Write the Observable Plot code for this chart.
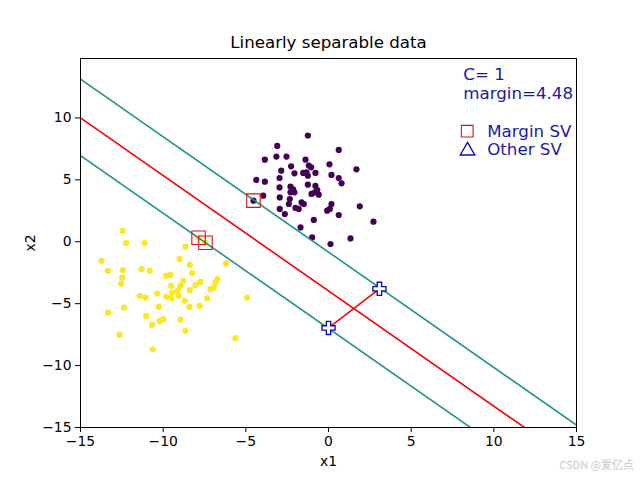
<!DOCTYPE html>
<html><head><meta charset="utf-8">
<script src="https://cdn.jsdelivr.net/npm/d3@7"></script>
<script src="https://cdn.jsdelivr.net/npm/@observablehq/plot@0.6"></script>
<style>body{margin:0;background:#fff}#c{position:relative;width:640px;height:480px}</style>
</head><body><div id="c"></div>
<script>
// class 0 (purple) points [x1, x2]
const class0 = [[-1.25,8.58],[-3.10,7.74],[0.62,7.42],[-3.15,6.88],[-2.54,6.88],[-3.85,6.63],[-1.39,6.63],[0.06,6.25],[-2.26,6.09],[-1.19,6.15],[-1.05,6.01],[1.69,5.85],[-2.86,5.74],[-2.06,5.53],[-1.53,5.56],[-1.33,5.61],[-0.79,5.56],[0.18,5.40],[0.62,5.15],[-2.96,5.15],[-1.25,5.34],[-4.37,4.99],[-3.85,4.85],[0.79,4.72],[-1.25,4.61],[-2.96,4.39],[-2.30,4.45],[-2.14,4.23],[-0.79,4.51],[-0.68,4.18],[-2.95,3.58],[-2.30,3.99],[-2.06,3.99],[-1.03,3.86],[-0.83,3.99],[-0.59,3.80],[-3.95,3.72],[-2.34,3.45],[-1.63,3.18],[-1.49,3.05],[-2.40,3.05],[0.18,3.05],[1.89,2.86],[-2.00,2.73],[-1.80,2.65],[-2.95,2.65],[-0.08,2.51],[0.08,2.65],[-2.64,2.24],[0.62,2.16],[-0.89,1.76],[-1.69,1.16],[-0.99,0.35],[0.12,-0.19],[1.33,0.27],[2.72,1.62],[-4.54,3.32]];
// class 1 (yellow) points
const class1 = [[-12.45,0.89],[-12.24,-0.11],[-11.13,-0.11],[-8.65,-0.40],[-13.73,-1.54],[-9.00,-1.40],[-6.19,-1.75],[-13.35,-2.35],[-12.44,-2.29],[-11.31,-2.21],[-10.81,-2.35],[-8.39,-1.86],[-8.25,-2.53],[-9.82,-2.75],[-9.56,-2.67],[-12.48,-2.89],[-12.54,-3.37],[-6.73,-3.02],[-6.84,-3.29],[-6.94,-3.70],[-7.14,-3.83],[-7.74,-3.24],[-8.05,-3.50],[-8.39,-3.91],[-8.79,-3.16],[-8.95,-3.56],[-9.52,-3.56],[-9.12,-3.96],[-9.46,-4.10],[-10.36,-4.18],[-11.42,-4.37],[-11.07,-4.51],[-9.80,-4.45],[-9.50,-4.56],[-9.06,-4.37],[-8.69,-4.77],[-7.34,-4.56],[-8.41,-5.26],[-7.79,-5.18],[-4.92,-4.51],[-10.27,-5.26],[-12.38,-5.31],[-13.33,-5.72],[-11.03,-5.99],[-10.00,-6.25],[-10.21,-6.39],[-10.67,-6.72],[-8.95,-6.29],[-8.65,-7.20],[-12.64,-7.52],[-10.61,-8.68],[-5.63,-7.79],[-7.86,0.32],[-7.44,-0.08]];
// support vectors
const marginSV = [[-4.54,3.32],[-7.86,0.32],[-7.44,-0.08]];
const otherSV = [[0.0,-6.96],[3.08,-3.80]];
// separating line x2 = slope*x1 + intercept
const slope = -0.931;
const lineNames = ["upper margin","boundary","lower margin"];
const lineIntercepts = [-0.835,-3.965,-7.005];
const lineColors = ["#21918c","red","#21918c"];
const xTicks = [-15,-10,-5,0,5,10,15];
const yTicks = [-15,-10,-5,0,5,10];
const xDomain = [-15,15];
const yDomain = [-15,14.8];
const Cvalue = 1;
const marginValue = 4.48;
const legendLabels = ["Margin SV","Other SV"];

const lines = lineNames.flatMap((name,i)=>xDomain.map(x=>({name, x, y: slope*x + lineIntercepts[i], color: lineColors[i]})));
const blue = "#0f0fc0";
const textBlue = "#1a1aa6";

const plot = Plot.plot({
  width:640, height:480,
  marginLeft:80, marginRight:64, marginTop:58, marginBottom:53,
  style:{fontFamily:"DejaVu Sans", fontSize:"13.9px", color:"black", background:"white"},
  x:{domain:xDomain, ticks:xTicks, tickFormat:d3.format("d"), label:"x1", labelArrow:"none", labelAnchor:"center", labelOffset:38, tickSize:5, tickPadding:4},
  y:{domain:yDomain, ticks:yTicks, tickFormat:d3.format("d"), label:"x2", labelArrow:"none", labelAnchor:"center", labelOffset:55, tickSize:5, tickPadding:4},
  marks:[
    Plot.dot(class0,{x:d=>d[0], y:d=>d[1], r:3.1, fill:"#440154"}),
    Plot.dot(class1,{x:d=>d[0], y:d=>d[1], r:3.1, fill:"#fde725"}),
    Plot.line(lines,{x:"x", y:"y", z:"name", stroke:"color", strokeWidth:1.6, clip:true}),
    Plot.line(otherSV,{x:d=>d[0], y:d=>d[1], stroke:"red", strokeWidth:1.6}),
    Plot.dot(marginSV,{x:d=>d[0], y:d=>d[1], symbol:"square", r:7.6, stroke:"#e01010", strokeWidth:1.1, fill:"none"}),
    Plot.dot(otherSV,{x:d=>d[0], y:d=>d[1], symbol:"cross", r:5.5, stroke:blue, strokeWidth:1.4, fill:"white"}),
    Plot.frame({stroke:"black", strokeWidth:1}),
    Plot.text(["Linearly separable data"],{frameAnchor:"top", dy:-11, lineAnchor:"bottom", fontSize:16.67, fill:"black"}),
    Plot.text([`C= ${Cvalue}`],{x:8.15, y:13.05, text:d=>d, textAnchor:"start", lineAnchor:"bottom", fontSize:16.67, fill:textBlue}),
    Plot.text([`margin=${marginValue}`],{x:8.15, y:11.49, text:d=>d, textAnchor:"start", lineAnchor:"bottom", fontSize:16.67, fill:textBlue}),
    Plot.dot([legendLabels[0]],{x:8.39, y:8.93, symbol:"square", r:6.6, stroke:"#e01010", strokeWidth:1.1, fill:"none"}),
    Plot.dot([legendLabels[1]],{x:8.41, y:7.35, symbol:"triangle", r:5.4, stroke:blue, strokeWidth:1.4, fill:"none"}),
    Plot.text([legendLabels[0]],{x:9.6, y:8.93, text:d=>d, textAnchor:"start", lineAnchor:"middle", fontSize:16.67, fill:textBlue}),
    Plot.text([legendLabels[1]],{x:9.6, y:7.43, text:d=>d, textAnchor:"start", lineAnchor:"middle", fontSize:16.67, fill:textBlue})
  ]
});
document.getElementById("c").appendChild(plot);
const wm = document.createElement("div");
wm.textContent = "CSDN @爱亿点";
wm.style.cssText = "position:absolute;right:6px;bottom:8px;font:11px 'Noto Sans CJK SC','DejaVu Sans';color:#c8c8c8;";
document.getElementById("c").appendChild(wm);
</script></body></html>
